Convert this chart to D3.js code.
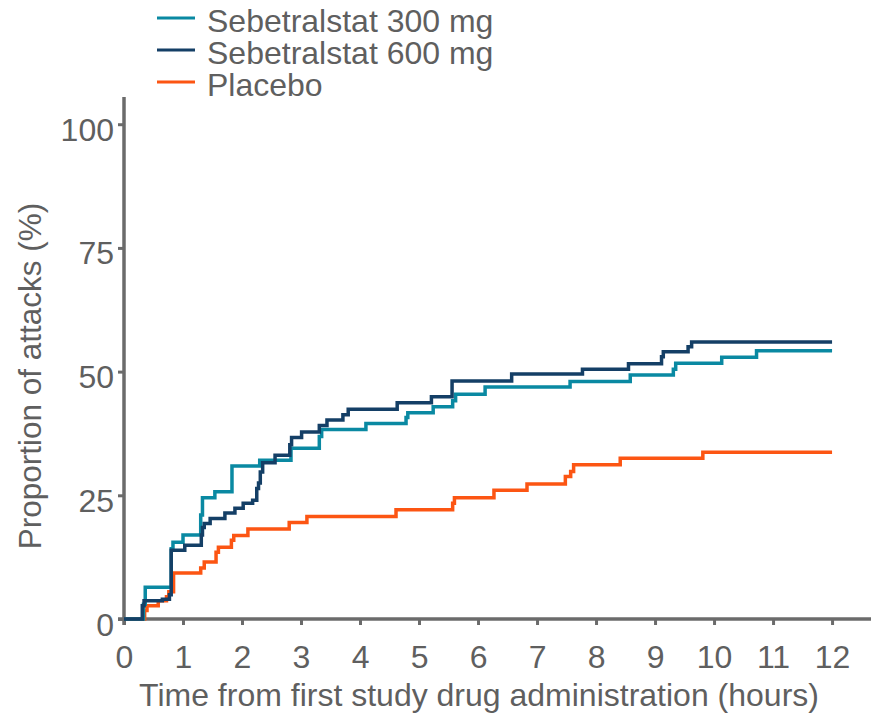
<!DOCTYPE html>
<html>
<head>
<meta charset="utf-8">
<script src="https://cdn.jsdelivr.net/npm/d3@7"></script>
<style>
  html, body { margin: 0; padding: 0; background: #ffffff; }
  svg { display: block; }
  text { font-family: "Liberation Sans", Arial, Helvetica, sans-serif; fill: #5f5f5f; }
</style>
</head>
<body>
<svg id="chart" width="871" height="714"></svg>
<script>
// ---- data ----
const seriesNames = ["Sebetralstat 300 mg", "Sebetralstat 600 mg", "Placebo"];
const seriesColors = ["#0a89a2", "#143f66", "#fc5513"];

const times300 = [0, 0.33, 0.36, 0.80, 0.83, 1.00, 1.30, 1.33, 1.54, 1.83, 2.30, 2.83, 3.31, 3.35, 4.10, 4.78, 4.81, 5.24, 5.57, 5.62, 6.12, 7.56, 8.58, 9.31, 9.35, 10.13, 10.72, 12];
const values300 = [0, 3.0, 6.4, 14.2, 15.5, 17.0, 21.0, 24.5, 25.7, 30.9, 32.1, 34.5, 36.9, 38.3, 39.5, 40.7, 41.7, 42.9, 44.1, 45.4, 46.9, 48.0, 49.3, 50.5, 51.7, 52.9, 54.2, 54.2];

const times600 = [0, 0.31, 0.34, 0.65, 0.77, 0.80, 1.03, 1.31, 1.33, 1.36, 1.46, 1.71, 1.88, 2.02, 2.18, 2.25, 2.28, 2.31, 2.35, 2.56, 2.81, 2.84, 3.01, 3.31, 3.44, 3.71, 3.80, 4.63, 5.21, 5.56, 6.57, 7.77, 8.55, 9.11, 9.14, 9.56, 9.62, 12];
const values600 = [0, 2.7, 3.7, 4.0, 4.9, 13.9, 14.9, 17.0, 18.5, 19.3, 20.3, 21.4, 22.4, 23.4, 24.0, 26.4, 27.5, 29.7, 31.6, 33.1, 35.2, 36.7, 37.8, 39.1, 40.2, 41.3, 42.4, 43.7, 44.9, 48.1, 49.5, 50.5, 51.6, 53.0, 54.0, 55.0, 56.0, 56.0];

const timesPbo = [0, 0.35, 0.39, 0.58, 0.72, 0.76, 0.84, 1.30, 1.36, 1.56, 1.60, 1.82, 1.86, 2.10, 2.80, 3.10, 4.61, 5.57, 5.60, 6.27, 6.83, 7.48, 7.57, 7.62, 8.41, 9.81, 12];
const valuesPbo = [0, 1.7, 2.7, 3.7, 4.5, 5.5, 9.3, 10.3, 11.5, 13.5, 14.5, 15.9, 16.9, 18.2, 19.5, 20.7, 22.1, 23.4, 24.5, 26.0, 27.3, 28.8, 29.8, 31.2, 32.5, 33.7, 33.7];

const xTicks = [0, 1, 2, 3, 4, 5, 6, 7, 8, 9, 10, 11, 12];
const yTicks = [0, 25, 50, 75, 100];
const xDomain = [0, 12.66];
const yDomain = [0, 105.5];
const xTitle = "Time from first study drug administration (hours)";
const yTitle = "Proportion of attacks (%)";

// ---- layout ----
const svg = d3.select("#chart");
const plotLeft = 124, plotRight = 871, plotTop = 97, plotBottom = 619;
const axisColor = "#6b6b6b";
const textColor = "#5f5f5f";

const x = d3.scaleLinear().domain(xDomain).range([plotLeft, plotRight]);
const y = d3.scaleLinear().domain(yDomain).range([plotBottom, plotTop]);

// axes
const gx = svg.append("g").attr("transform", `translate(0,${plotBottom})`)
  .call(d3.axisBottom(x).tickValues(xTicks).tickSize(6).tickPadding(20).tickSizeOuter(0));
gx.select(".domain").remove();
gx.selectAll(".tick line").attr("stroke", axisColor).attr("stroke-width", 3);
gx.selectAll(".tick text").attr("font-size", 32).attr("fill", textColor)
  .style("font-family", '"Liberation Sans", Arial, sans-serif');

const gy = svg.append("g").attr("transform", `translate(${plotLeft},0)`)
  .call(d3.axisLeft(y).tickValues(yTicks).tickSize(6).tickPadding(4).tickSizeOuter(0));
gy.select(".domain").remove();
gy.selectAll(".tick line").attr("stroke", axisColor).attr("stroke-width", 3);
gy.selectAll(".tick text").attr("font-size", 32).attr("fill", textColor).attr("dy", "0.5em")
  .style("font-family", '"Liberation Sans", Arial, sans-serif');

// axis lines
svg.append("line")
  .attr("x1", x(0)).attr("x2", x(0))
  .attr("y1", y(yDomain[1])).attr("y2", y(0) + 6)
  .attr("stroke", axisColor).attr("stroke-width", 3.5);
svg.append("line")
  .attr("x1", x(0) - 6).attr("x2", x(xDomain[1]))
  .attr("y1", y(0)).attr("y2", y(0))
  .attr("stroke", axisColor).attr("stroke-width", 3.5);

// step curves
const series = [
  { t: times300, v: values300 },
  { t: times600, v: values600 },
  { t: timesPbo, v: valuesPbo }
];
const line = d3.line()
  .x(d => x(d[0]))
  .y(d => y(d[1]))
  .curve(d3.curveStepAfter);

// draw placebo first, then 300, then 600 on top
[2, 0, 1].forEach(i => {
  const s = series[i];
  const pts = s.t.map((t, k) => [t, s.v[k]]);
  svg.append("path")
    .attr("d", line(pts))
    .attr("fill", "none")
    .attr("stroke", seriesColors[i])
    .attr("stroke-width", 3.5)
    .attr("stroke-linejoin", "miter")
    .attr("stroke-linecap", "butt");
});

// axis titles
svg.append("text")
  .attr("x", 479).attr("y", 706)
  .attr("text-anchor", "middle")
  .attr("font-size", 32)
  .text(xTitle);

svg.append("text")
  .attr("transform", "translate(41,376) rotate(-90)")
  .attr("text-anchor", "middle")
  .attr("font-size", 31.5)
  .text(yTitle);

// legend
const legend = svg.append("g");
seriesNames.forEach((name, i) => {
  const base = 32 + i * 32;
  legend.append("line")
    .attr("x1", 157).attr("x2", 195)
    .attr("y1", base - 14).attr("y2", base - 14)
    .attr("stroke", seriesColors[i]).attr("stroke-width", 3);
  legend.append("text")
    .attr("x", 207).attr("y", base)
    .attr("font-size", 32)
    .text(name);
});
</script>
</body>
</html>
